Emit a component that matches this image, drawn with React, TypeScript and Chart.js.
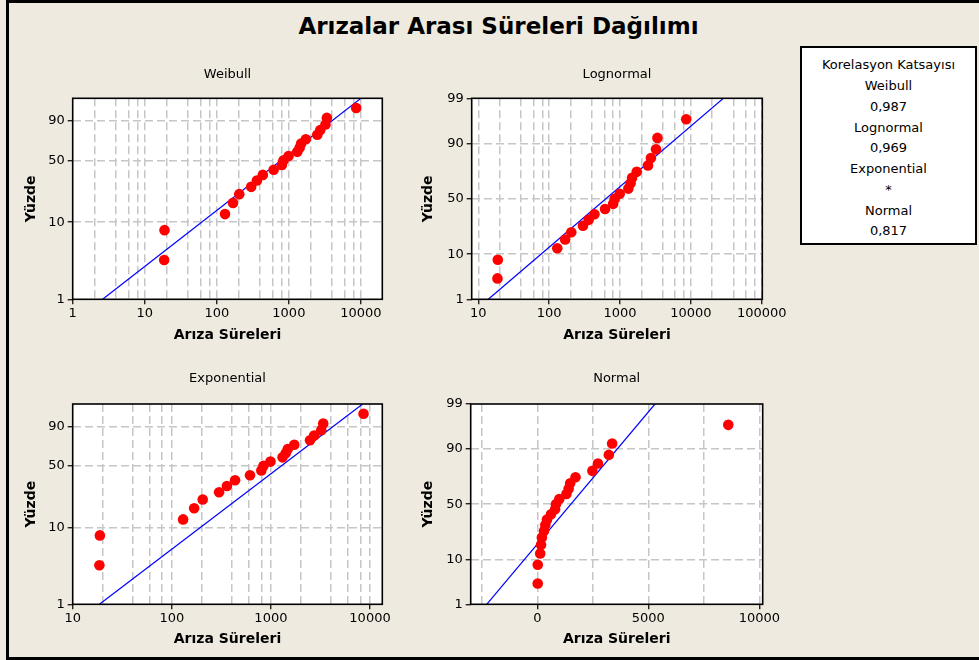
import { useEffect, useRef } from "react";
import { Chart, registerables } from "chart.js";

Chart.register(...registerables);

// ---------------- data ----------------
const failureTimes = [18.6, 18.8, 130, 168, 205, 300, 360, 435, 615, 800, 840, 990, 1310, 1410, 1480, 1720, 2480, 2730, 3220, 3370, 8600];
const plotPercents = [3.27, 7.94, 12.62, 17.29, 21.96, 26.64, 31.31, 35.98, 40.65, 45.33, 50.0, 54.67, 59.35, 64.02, 68.69, 73.36, 78.04, 82.71, 87.38, 92.06, 96.73];

const percentGrid = [1, 10, 50, 90, 99];
const percentLabelsShort = ["1", "10", "50", "90", ""];
const percentLabelsFull = ["1", "10", "50", "90", "99"];

const fitPercents = [1, 99];
const weibullFitX = [2.6, 10000];
const lognormalFitX = [13.8, 28800];
const exponentialFitX = [18.6, 8430];
const normalFitX = [-2280, 5300];

const minorMultipliers = [2, 4, 6, 8];
const weibullMajors = [1, 10, 100, 1000, 10000];
const lognormalMajors = [10, 100, 1000, 10000, 100000];
const exponentialMajors = [10, 100, 1000, 10000];
const normalGrid = [-2500, 0, 2500, 5000, 7500, 10000];
const normalLabels = [0, 5000, 10000];

const corrNames = ["Weibull", "Lognormal", "Exponential", "Normal"];
const corrValues = ["0,987", "0,969", "*", "0,817"];

const mainTitle = "Arızalar Arası Süreleri Dağılımı";
const corrTitle = "Korelasyon Katsayısı";
const xTitle = "Arıza Süreleri";
const yTitle = "Yüzde";

// ---------------- helpers ----------------
const F = "'DejaVu Sans', sans-serif";
const BG = "#eeeadf";

function normInv(p: number): number {
  const a = [-3.969683028665376e1, 2.209460984245205e2, -2.759285104469687e2, 1.38357751867269e2, -3.066479806614716e1, 2.506628277459239];
  const b = [-5.447609879822406e1, 1.615858368580409e2, -1.556989798598866e2, 6.680131188771972e1, -1.328068155288572e1];
  const c = [-7.784894002430293e-3, -3.223964580411365e-1, -2.400758277161838, -2.549732539343734, 4.374664141464968, 2.938163982698783];
  const d = [7.784695709041462e-3, 3.224671290700398e-1, 2.445134137142996, 3.754408661907416];
  const pl = 0.02425;
  if (p < pl) {
    const q = Math.sqrt(-2 * Math.log(p));
    return (((((c[0] * q + c[1]) * q + c[2]) * q + c[3]) * q + c[4]) * q + c[5]) / ((((d[0] * q + d[1]) * q + d[2]) * q + d[3]) * q + 1);
  }
  if (p <= 1 - pl) {
    const q = p - 0.5;
    const r = q * q;
    return ((((((a[0] * r + a[1]) * r + a[2]) * r + a[3]) * r + a[4]) * r + a[5]) * q) / (((((b[0] * r + b[1]) * r + b[2]) * r + b[3]) * r + b[4]) * r + 1);
  }
  const q = Math.sqrt(-2 * Math.log(1 - p));
  return -(((((c[0] * q + c[1]) * q + c[2]) * q + c[3]) * q + c[4]) * q + c[5]) / ((((d[0] * q + d[1]) * q + d[2]) * q + d[3]) * q + 1);
}

const weibullT = (p: number) => Math.log(-Math.log(1 - p / 100));
const normalT = (p: number) => normInv(p / 100);

const logGrid = (majors: number[], max: number) =>
  majors.flatMap((m) => [m, ...minorMultipliers.map((k) => k * m)]).filter((v) => v <= max);

type Panel = {
  title: string;
  xType: "logarithmic" | "linear";
  xMin: number;
  xMax: number;
  xGrid: number[];
  xLabels: number[];
  yT: (p: number) => number;
  yLabels: string[];
  fitX: number[];
  box: { x: number; y: number; w: number; h: number };
  area: { L: number; T: number; R: number; B: number };
  titleY: number;
  xTitleY: number;
  yTitleX: number;
};

const panels: Panel[] = [
  {
    title: "Weibull", xType: "logarithmic", xMin: 1, xMax: 19800,
    xGrid: logGrid(weibullMajors, 19800), xLabels: weibullMajors,
    yT: weibullT, yLabels: percentLabelsShort, fitX: weibullFitX,
    box: { x: 0, y: 55, w: 420, h: 305 }, area: { L: 72.7, T: 98.3, R: 382.3, B: 299.3 },
    titleY: 74.5, xTitleY: 335, yTitleX: 31,
  },
  {
    title: "Lognormal", xType: "logarithmic", xMin: 8.05, xMax: 102000,
    xGrid: logGrid(lognormalMajors, 102000), xLabels: lognormalMajors,
    yT: normalT, yLabels: percentLabelsFull, fitX: lognormalFitX,
    box: { x: 410, y: 55, w: 380, h: 305 }, area: { L: 471.7, T: 98.3, R: 762.3, B: 299.3 },
    titleY: 74.5, xTitleY: 335, yTitleX: 428.3,
  },
  {
    title: "Exponential", xType: "logarithmic", xMin: 10, xMax: 13300,
    xGrid: logGrid(exponentialMajors, 13300), xLabels: exponentialMajors,
    yT: weibullT, yLabels: percentLabelsShort, fitX: exponentialFitX,
    box: { x: 0, y: 355, w: 420, h: 300 }, area: { L: 72.7, T: 404, R: 382.3, B: 604.3 },
    titleY: 379, xTitleY: 639, yTitleX: 31,
  },
  {
    title: "Normal", xType: "linear", xMin: -3000, xMax: 10150,
    xGrid: normalGrid, xLabels: normalLabels,
    yT: normalT, yLabels: percentLabelsFull, fitX: normalFitX,
    box: { x: 410, y: 355, w: 380, h: 300 }, area: { L: 470.7, T: 404, R: 762.7, B: 604.3 },
    titleY: 379, xTitleY: 639, yTitleX: 428.3,
  },
];

const framePlugin = {
  id: "plotFrame",
  beforeDraw(chart: any) {
    const { ctx, chartArea: a } = chart;
    ctx.save();
    ctx.fillStyle = "#ffffff";
    ctx.fillRect(a.left, a.top, a.right - a.left, a.bottom - a.top);
    ctx.restore();
  },
  afterDraw(chart: any) {
    const { ctx, chartArea: a } = chart;
    ctx.save();
    ctx.strokeStyle = "#000000";
    ctx.lineWidth = 1.6;
    ctx.setLineDash([]);
    ctx.strokeRect(a.left, a.top, a.right - a.left, a.bottom - a.top);
    ctx.restore();
  },
};

const GRID = "#c6c6c6";
const DASH = [8, 4];

function ProbPanel({ cfg }: { cfg: Panel }) {
  const ref = useRef<HTMLCanvasElement>(null);
  useEffect(() => {
    const { box, area } = cfg;
    const TFS = 13;
    const tLH = TFS * 1.2;
    const AFS = 14;
    const aLH = AFS * 1.2;
    const padTop = cfg.titleY - tLH / 2 - box.y;
    const titlePadBottom = area.T - cfg.titleY - tLH / 2;
    const padRight = box.x + box.w - area.R;
    const yW = area.L - box.x;
    const xH = box.y + box.h - area.B;
    const xTitlePadBottom = box.y + box.h - cfg.xTitleY - aLH / 2;
    const yTitlePadTop = cfg.yTitleX - box.x - aLH / 2;
    const yMin = cfg.yT(percentGrid[0]);
    const yMax = cfg.yT(percentGrid[percentGrid.length - 1]);
    const yTickVals = percentGrid.map((p) => cfg.yT(p));

    const chart = new Chart(ref.current as HTMLCanvasElement, {
      type: "scatter",
      data: {
        datasets: [
          {
            type: "scatter",
            data: failureTimes.map((x, i) => ({ x, y: cfg.yT(plotPercents[i]) })),
            pointRadius: 5.3,
            pointHoverRadius: 5.3,
            backgroundColor: "#ff0000",
            borderWidth: 0,
            clip: false,
          } as any,
          {
            type: "line",
            data: cfg.fitX.map((x, i) => ({ x, y: cfg.yT(fitPercents[i]) })),
            borderColor: "#0000ff",
            borderWidth: 1.2,
            pointRadius: 0,
            fill: false,
          } as any,
        ],
      },
      options: {
        responsive: false,
        animation: false,
        events: [],
        layout: { padding: { top: padTop, left: 0, right: padRight, bottom: 0 } },
        plugins: {
          legend: { display: false },
          tooltip: { enabled: false },
          title: {
            display: true,
            text: cfg.title,
            fullSize: false,
            color: "#000",
            font: { family: F, size: TFS, weight: "normal" },
            padding: { top: 0, bottom: titlePadBottom },
          },
        },
        scales: {
          x: {
            type: cfg.xType,
            min: cfg.xMin,
            max: cfg.xMax,
            afterBuildTicks: (s: any) => {
              s.ticks = cfg.xGrid.map((v) => ({ value: v }));
            },
            afterFit: (s: any) => {
              s.height = xH;
            },
            ticks: {
              autoSkip: false,
              maxRotation: 0,
              minRotation: 0,
              padding: 2,
              color: "#000",
              font: { family: F, size: 13 },
              callback: (v: any) => (cfg.xLabels.includes(Number(v)) ? String(v) : ""),
            },
            grid: {
              color: (c: any) => (c.tick && (c.tick.value <= cfg.xMin || c.tick.value >= cfg.xMax) ? "rgba(0,0,0,0)" : GRID),
              lineWidth: 1.5,
              borderDash: DASH,
              tickLength: 5,
              tickWidth: 1.2,
              tickColor: (c: any) => (c.tick && cfg.xLabels.includes(c.tick.value) ? "#000" : "rgba(0,0,0,0)"),
            },
            border: { display: false, dash: DASH },
            title: {
              display: true,
              text: xTitle,
              color: "#000",
              font: { family: F, size: AFS, weight: "bold" },
              padding: { top: 0, bottom: xTitlePadBottom },
            },
          } as any,
          y: {
            type: "linear",
            min: yMin,
            max: yMax,
            afterBuildTicks: (s: any) => {
              s.ticks = yTickVals.map((v) => ({ value: v }));
            },
            afterFit: (s: any) => {
              s.width = yW;
            },
            ticks: {
              autoSkip: false,
              padding: 3,
              color: "#000",
              font: { family: F, size: 13 },
              callback: (_v: any, i: number) => cfg.yLabels[i],
            },
            grid: {
              color: (c: any) => (c.index === 0 || c.index === percentGrid.length - 1 ? "rgba(0,0,0,0)" : GRID),
              lineWidth: 1.5,
              borderDash: DASH,
              tickLength: 5,
              tickWidth: 1.2,
              tickColor: (c: any) => (c.tick && cfg.yLabels[c.index] ? "#000" : "rgba(0,0,0,0)"),
            },
            border: { display: false, dash: DASH },
            title: {
              display: true,
              text: yTitle,
              color: "#000",
              font: { family: F, size: AFS, weight: "bold" },
              padding: { top: yTitlePadTop, bottom: 0 },
            },
          } as any,
        },
      },
      plugins: [framePlugin],
    });
    return () => chart.destroy();
  }, [cfg]);
  return (
    <canvas
      ref={ref}
      width={cfg.box.w}
      height={cfg.box.h}
      style={{ position: "absolute", left: cfg.box.x, top: cfg.box.y, width: cfg.box.w, height: cfg.box.h }}
    />
  );
}

export default function App() {
  return (
    <div
      style={{
        position: "absolute",
        left: 0,
        top: 0,
        width: 979,
        height: 660,
        overflow: "hidden",
        background: BG,
        fontFamily: F,
        color: "#000",
      }}
    >
      <div
        style={{
          position: "absolute",
          left: 6,
          top: 0,
          width: 1000,
          height: 660,
          boxSizing: "border-box",
          border: "3px solid #000",
        }}
      />
      <div
        style={{
          position: "absolute",
          left: 0,
          top: 11.5,
          width: 997,
          textAlign: "center",
          fontSize: 23,
          lineHeight: "28px",
          fontWeight: "bold",
          whiteSpace: "nowrap",
        }}
      >
        {mainTitle}
      </div>
      {panels.map((p) => (
        <ProbPanel key={p.title} cfg={p} />
      ))}
      <div
        style={{
          position: "absolute",
          left: 800,
          top: 46,
          width: 177,
          height: 199,
          boxSizing: "border-box",
          border: "2px solid #000",
          background: "#fff",
          textAlign: "center",
          fontSize: 13,
          lineHeight: "20.75px",
          paddingTop: 7.3,
          whiteSpace: "nowrap",
        }}
      >
        <div>{corrTitle}</div>
        {corrNames.map((n, i) => (
          <div key={n}>
            <div>{n}</div>
            <div>{corrValues[i]}</div>
          </div>
        ))}
      </div>
    </div>
  );
}
